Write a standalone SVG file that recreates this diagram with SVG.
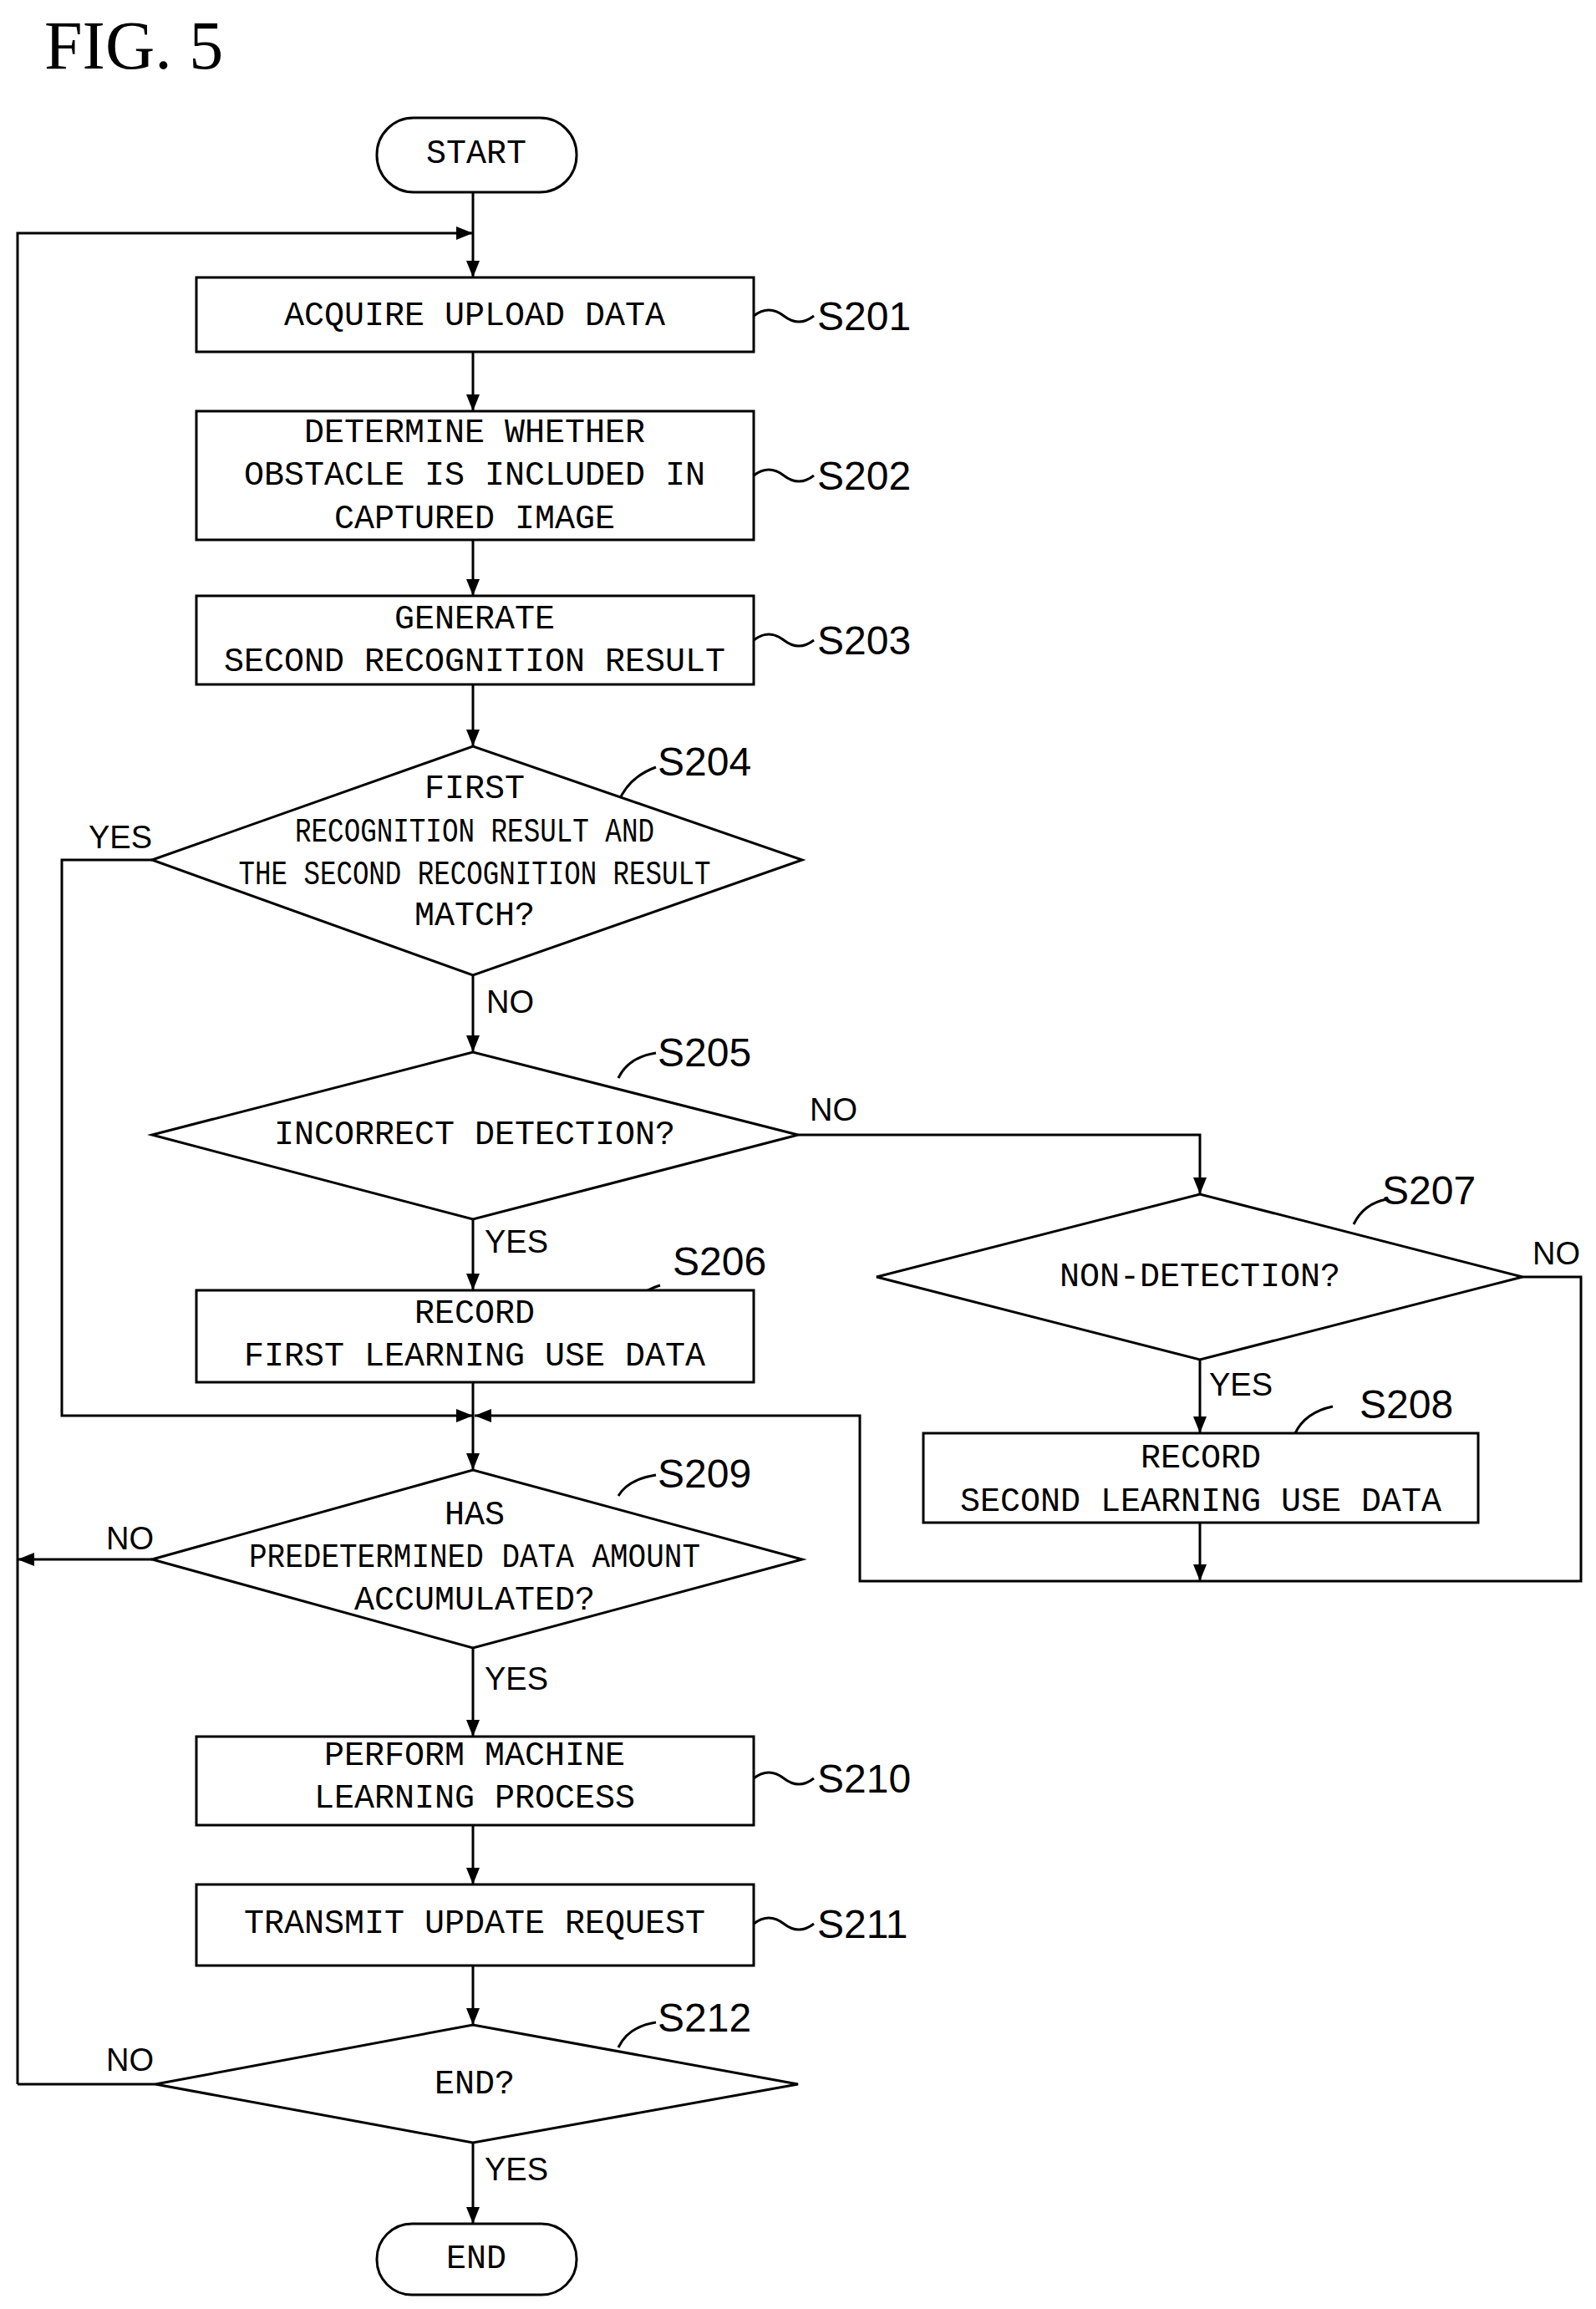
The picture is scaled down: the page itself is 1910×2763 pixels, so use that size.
<svg xmlns="http://www.w3.org/2000/svg" width="1910" height="2763" viewBox="0 0 1910 2763">
<style>
.s{fill:#fff;stroke:#000;stroke-width:3}
.l{fill:none;stroke:#000;stroke-width:3}
.t{font-family:"Liberation Mono",monospace;font-size:40px;text-anchor:middle;dominant-baseline:central}
.g{font-family:"Liberation Sans",sans-serif;font-size:48px;dominant-baseline:central}
.y{font-family:"Liberation Sans",sans-serif;font-size:38px;dominant-baseline:central}
</style>
<defs><marker id="b" viewBox="0 0 10 10" refX="10" refY="5" markerWidth="20" markerHeight="20" orient="auto" markerUnits="userSpaceOnUse"><path d="M0 1L10 5L0 9z"/></marker></defs>
<rect width="1910" height="2763" fill="#fff"/>
<text x="53" y="82" font-family="Liberation Serif,serif" font-size="82">FIG. 5</text>
<g id="connectors" class="l">
<path d="M566 230V332" marker-end="url(#b)"/>
<path d="M21 2494V279H566" marker-end="url(#b)"/>
<path d="M566 421V492" marker-end="url(#b)"/>
<path d="M566 646V713" marker-end="url(#b)"/>
<path d="M566 819V893" marker-end="url(#b)"/>
<path d="M566 1167V1259" marker-end="url(#b)"/>
<path d="M566 1459V1544" marker-end="url(#b)"/>
<path d="M566 1654V1759" marker-end="url(#b)"/>
<path d="M182 1029H74V1694H566" marker-end="url(#b)"/>
<path d="M955 1358H1436V1429" marker-end="url(#b)"/>
<path d="M1436 1627V1715" marker-end="url(#b)"/>
<path d="M1436 1822V1892" marker-end="url(#b)"/>
<path d="M1822 1528H1892V1892H1029V1694H568" marker-end="url(#b)"/>
<path d="M182 1866H21" marker-end="url(#b)"/>
<path d="M566 1972V2078" marker-end="url(#b)"/>
<path d="M566 2184V2255" marker-end="url(#b)"/>
<path d="M566 2352V2423" marker-end="url(#b)"/>
<path d="M566 2564V2661" marker-end="url(#b)"/>
<path d="M186 2494H21"/>
<path d="M902 378q18-14 36 0t36 0M902 569q18-14 36 0t36 0M902 766q18-14 36 0t36 0M902 2128q18-14 36 0t36 0M902 2302q18-14 36 0t36 0"/>
<path d="M740 960q12-30 45-42M740 1290q12-25 45-30M1620 1465q12-25 40-30M745 1578q12-30 45-40M1550 1715q12-25 45-32M740 1790q12-20 45-25M740 2450q12-25 45-30"/>
</g>
<g id="start"><rect class="s" x="451" y="141" width="239" height="89" rx="44"/><text class="t" x="570" y="184">START</text></g>
<g id="s201"><rect class="s" x="235" y="332" width="667" height="89"/><text class="t" x="568" y="378">ACQUIRE UPLOAD DATA</text><text class="g" x="978" y="378">S201</text></g>
<g id="s202"><rect class="s" x="235" y="492" width="667" height="154"/><text class="t" x="568" y="518">DETERMINE WHETHER</text><text class="t" x="568" y="569">OBSTACLE IS INCLUDED IN</text><text class="t" x="568" y="621">CAPTURED IMAGE</text><text class="g" x="978" y="569">S202</text></g>
<g id="s203"><rect class="s" x="235" y="713" width="667" height="106"/><text class="t" x="568" y="741">GENERATE</text><text class="t" x="568" y="792">SECOND RECOGNITION RESULT</text><text class="g" x="978" y="766">S203</text></g>
<g id="s204"><path class="s" d="M182 1029L566 893L960 1029L566 1167z"/><text class="t" x="568" y="944">FIRST</text><text class="t" x="568" y="996" textLength="430" lengthAdjust="spacingAndGlyphs">RECOGNITION RESULT AND</text><text class="t" x="568" y="1047" textLength="565" lengthAdjust="spacingAndGlyphs">THE SECOND RECOGNITION RESULT</text><text class="t" x="568" y="1096">MATCH?</text><text class="g" x="787" y="911">S204</text><text class="y" x="106" y="1002">YES</text><text class="y" x="582" y="1199">NO</text></g>
<g id="s205"><path class="s" d="M182 1358L566 1259L955 1358L566 1459z"/><text class="t" x="568" y="1358">INCORRECT DETECTION?</text><text class="g" x="787" y="1259">S205</text><text class="y" x="969" y="1328">NO</text><text class="y" x="580" y="1486">YES</text></g>
<g id="s206"><rect class="s" x="235" y="1544" width="667" height="110"/><text class="t" x="568" y="1572">RECORD</text><text class="t" x="568" y="1623">FIRST LEARNING USE DATA</text><text class="g" x="805" y="1509">S206</text></g>
<g id="s207"><path class="s" d="M1049 1528L1436 1429L1822 1528L1436 1627z"/><text class="t" x="1436" y="1528">NON-DETECTION?</text><text class="g" x="1654" y="1424">S207</text><text class="y" x="1834" y="1500">NO</text><text class="y" x="1447" y="1657">YES</text></g>
<g id="s208"><rect class="s" x="1105" y="1715" width="664" height="107"/><text class="t" x="1437" y="1745">RECORD</text><text class="t" x="1437" y="1797">SECOND LEARNING USE DATA</text><text class="g" x="1627" y="1680">S208</text></g>
<g id="s209"><path class="s" d="M182 1866L566 1759L960 1866L566 1972z"/><text class="t" x="568" y="1813">HAS</text><text class="t" x="568" y="1864" textLength="540" lengthAdjust="spacingAndGlyphs">PREDETERMINED DATA AMOUNT</text><text class="t" x="568" y="1915">ACCUMULATED?</text><text class="g" x="787" y="1763">S209</text><text class="y" x="127" y="1841">NO</text><text class="y" x="580" y="2009">YES</text></g>
<g id="s210"><rect class="s" x="235" y="2078" width="667" height="106"/><text class="t" x="568" y="2101">PERFORM MACHINE</text><text class="t" x="568" y="2152">LEARNING PROCESS</text><text class="g" x="978" y="2128">S210</text></g>
<g id="s211"><rect class="s" x="235" y="2255" width="667" height="97"/><text class="t" x="568" y="2302">TRANSMIT UPDATE REQUEST</text><text class="g" x="978" y="2302">S211</text></g>
<g id="s212"><path class="s" d="M186 2494L566 2423L955 2494L566 2564z"/><text class="t" x="568" y="2494">END?</text><text class="g" x="787" y="2414">S212</text><text class="y" x="127" y="2465">NO</text><text class="y" x="580" y="2596">YES</text></g>
<g id="end"><rect class="s" x="451" y="2661" width="239" height="85" rx="42"/><text class="t" x="570" y="2703">END</text></g>
</svg>
